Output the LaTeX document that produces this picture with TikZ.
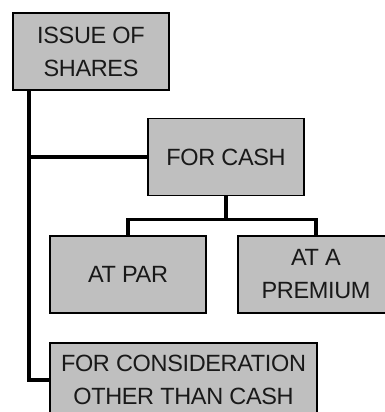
\documentclass[tikz,border=0pt]{standalone}
\usepackage{fontspec}
\setmainfont[LetterSpace=-1.5]{Liberation Sans}
\usetikzlibrary{positioning}
\tikzset
{
    box/.style  = {rectangle, draw=black, fill=black!25!white, text=black!90, line width=1.6pt, align=center, inner sep=0pt, minimum width=156pt, minimum height=77pt, font=\fontsize{23.5}{33}\selectfont},
    link/.style = {line width=3.6pt, draw=black}
}

\begin{document}
\begin{tikzpicture}[x=1pt, y=-1pt]
\useasboundingbox (0,0) rectangle (385,412);
\node[box] (issue)   at (91,51.5)   {ISSUE OF\\SHARES};
\node[box] (cash)    at (226,157)   {FOR CASH};
\node[box] (par)     at (128,274.5) {AT PAR};
\node[box] (premium) at (316,274.5) {AT A\\PREMIUM};
\node[box, minimum width=267pt, minimum height=74pt] (consider) at (183.5,380) {FOR CONSIDERATION\\OTHER THAN CASH};

% trunk down the left side
\coordinate (trunk) at (29,90);
\draw[link] (trunk) |- (consider.west);
\draw[link] (cash.west) -- (cash.west -| trunk);

% split below cash
\draw[link] (cash.south) -- ++(0,23) coordinate (split);
\draw[link] (par.north) |- (split) -| (premium.north);
\end{tikzpicture}
\end{document}
